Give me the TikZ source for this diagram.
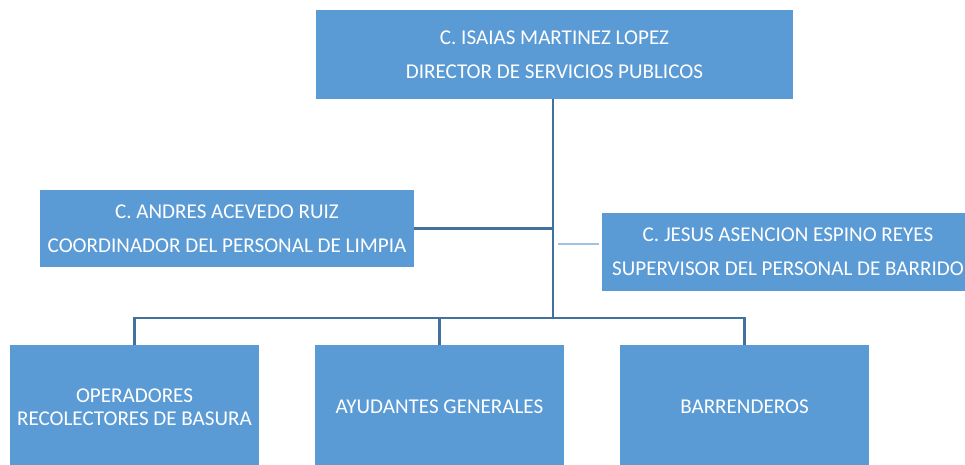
\documentclass[tikz,border=0pt]{standalone}
\usepackage{fontspec}
\setmainfont{Carlito}
\usetikzlibrary{positioning}
\definecolor{boxblue}{HTML}{5B9BD5}
\definecolor{lineblue}{HTML}{41719C}
\definecolor{paleblue}{HTML}{9DC3E6}

\begin{document}
\begin{tikzpicture}[x=0.02cm, y=-0.02cm,
  cargo/.style={fill=boxblue, text=white, align=center, inner sep=0pt, font=\fontsize{12}{19.3}\selectfont},
  puesto/.style={fill=boxblue, text=white, align=center, inner sep=0pt, minimum width=4.98cm, minimum height=2.48cm, font=\fontsize{12}{13.2}\selectfont},
  liga/.style={draw=lineblue, line width=1.2pt}]
\useasboundingbox (0,0) rectangle (965,464);
\clip (0,0) rectangle (965,464);

% jefes
\node[cargo, minimum width=9.54cm, minimum height=1.78cm] (director) at (554.5,54.5) {C. ISAIAS MARTINEZ LOPEZ\\DIRECTOR DE SERVICIOS PUBLICOS};
\node[cargo, minimum width=7.48cm, minimum height=1.54cm] (coordinador) at (227,228.5) {C. ANDRES ACEVEDO RUIZ\\COORDINADOR DEL PERSONAL DE LIMPIA};
\node[cargo, minimum width=7.44cm, minimum height=1.56cm] (supervisor) at (788,252) {C. JESUS ASENCION ESPINO REYES\\SUPERVISOR DEL PERSONAL DE BARRIDO};

% personal
\node[puesto] (operadores) at (134.5,407) {OPERADORES\\RECOLECTORES DE BASURA};
\node[puesto] (ayudantes) at (439.5,407) {AYUDANTES GENERALES};
\node[puesto] (barrenderos) at (744.5,407) {BARRENDEROS};

% lineas
\coordinate (tronco) at (553,318);
\coordinate (suelta) at (558,244);
\draw[liga] (director.south -| tronco) -- (tronco);
\draw[liga] (coordinador.east) -- (coordinador.east -| tronco);
\draw[liga] (operadores.north) |- (tronco) -| (barrenderos.north);
\draw[liga] (ayudantes.north) -- (ayudantes.north |- tronco);
\draw[paleblue, line width=1pt, shorten >=0.06cm] (suelta) -- (supervisor.west |- suelta);
\end{tikzpicture}
\end{document}
